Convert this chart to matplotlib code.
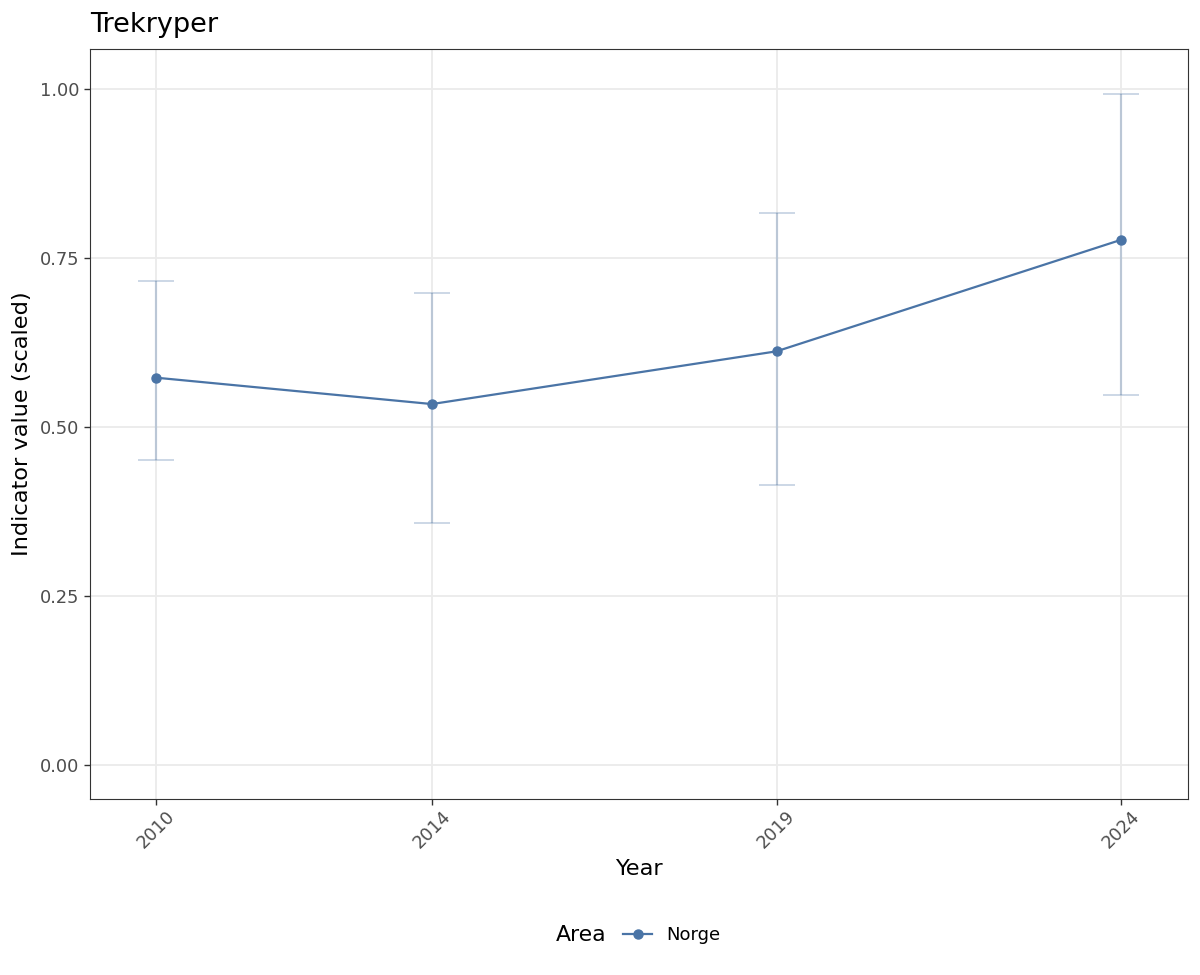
import matplotlib
matplotlib.use("Agg")
import matplotlib.pyplot as plt
from matplotlib.lines import Line2D
from matplotlib.offsetbox import HPacker

years = [2010, 2014, 2019, 2024]
values = [0.573, 0.534, 0.612, 0.777]
lower = [0.451, 0.358, 0.414, 0.548]
upper = [0.716, 0.698, 0.817, 0.993]
yticks = [0.00, 0.25, 0.50, 0.75, 1.00]
ytick_labels = ["0.00", "0.25", "0.50", "0.75", "1.00"]

color = "#4a74a6"
plt.rcParams['font.family'] = ['DejaVu Sans']

fig = plt.figure(figsize=(12, 9.75), dpi=100)
ax = fig.add_axes([0.075, 0.1805, 0.915, 0.7692])

yerr = [[v - l for v, l in zip(values, lower)], [u - v for u, v in zip(upper, values)]]
ax.errorbar(years, values, yerr=yerr, fmt='none', ecolor=color, alpha=0.3,
            elinewidth=1.6, capsize=13, capthick=1.3, zorder=2)
ax.plot(years, values, color=color, lw=1.6, zorder=3)
ax.plot(years, values, 'o', color=color, ms=6.5, zorder=4)

ax.set_xlim(2009.04, 2024.97)
ax.set_ylim(-0.0503, 1.0592)
ax.set_xticks(years)
ax.set_xticklabels([str(y) for y in years], rotation=45, ha='center', va='top')
ax.set_yticks(yticks)
ax.set_yticklabels(ytick_labels)
ax.grid(True, color='#ebebeb', lw=1.3, zorder=0)
ax.set_axisbelow(True)
for s in ax.spines.values():
    s.set_color('#333333')
    s.set_linewidth(0.8)
ax.tick_params(axis='both', colors='#333333', labelcolor='#4d4d4d', labelsize=12.8,
               length=4, width=1)
ax.tick_params(axis='x', pad=2)
ax.set_xlabel("Year", fontsize=16.2, labelpad=5)
ax.set_ylabel("Indicator value (scaled)", fontsize=16.2, labelpad=6)
ax.set_title("Trekryper", loc='left', fontsize=19.5, pad=12)
ax.title.set_x(-0.0005)

handle = Line2D([], [], color=color, marker='o', lw=1.6, ms=6.5)
leg = fig.legend([handle], ["Norge"], title="Area", loc='center', bbox_to_anchor=(0.532, 0.041),
                 frameon=False, fontsize=13, title_fontsize=15.8, handlelength=1.6,
                 handletextpad=0.8, ncol=1)
title_box = leg._legend_title_box
entries = leg._legend_box.get_children()[1]
leg._legend_box._children = [HPacker(pad=0, sep=12, align='center', children=[title_box, entries])]

fig.savefig("out.png", dpi=100)
